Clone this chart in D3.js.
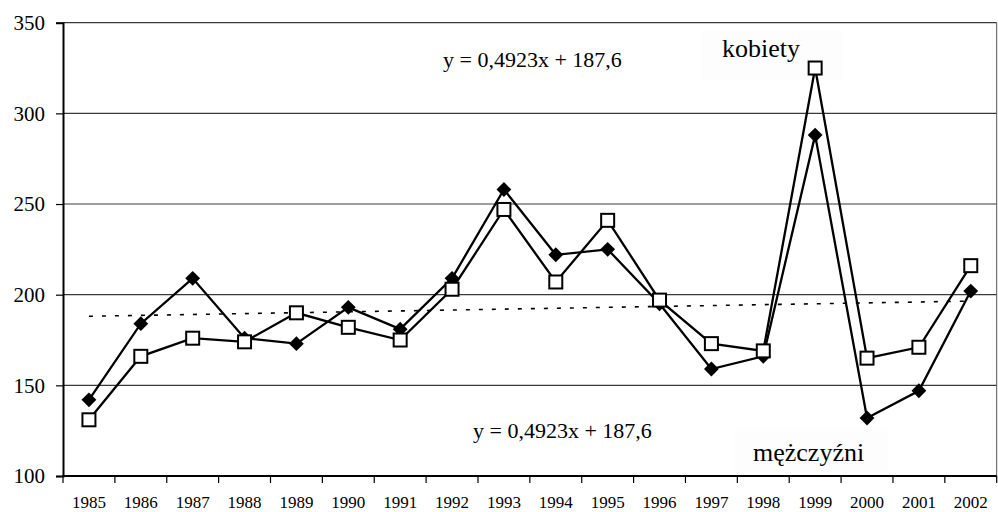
<!DOCTYPE html>
<html>
<head>
<meta charset="utf-8">
<script src="https://cdn.jsdelivr.net/npm/d3@7"></script>
<style>
  body { margin: 0; background: #fff; }
  svg { display: block; font-family: "Liberation Serif", "Times New Roman", serif; }
</style>
</head>
<body>
<svg id="chart" width="998" height="512"></svg>
<script>
// data
var years = ["1985","1986","1987","1988","1989","1990","1991","1992","1993",
             "1994","1995","1996","1997","1998","1999","2000","2001","2002"];
var kobiety = [131,166,176,174,190,182,175,203,247,207,241,197,173,169,325,165,171,216];
var mezczyzni = [142,184,209,176,173,193,181,209,258,222,225,195,159,166,288,132,147,202];
var yTicks = [100,150,200,250,300,350];
var trendSlope = 0.4923, trendIntercept = 187.6;
var trendLabel = "y = 0,4923x + 187,6";

var svg = d3.select("#chart");
var pLeft = 63, pRight = 996.7, pTop = 22.7, pBottom = 476;

var x = d3.scaleBand().domain(years).range([pLeft, pRight]).padding(0);
var y = d3.scaleLinear().domain([100, 350]).range([pBottom, pTop]);
var cx = function(d){ return x(d) + x.bandwidth() / 2; };

// grid lines
svg.append("g").selectAll("line")
  .data(yTicks.slice(1))
  .enter().append("line")
  .attr("x1", pLeft).attr("x2", pRight)
  .attr("y1", function(d){ return y(d); }).attr("y2", function(d){ return y(d); })
  .attr("stroke", "#3a3a3a").attr("stroke-width", 1.2);

// right border
svg.append("line")
  .attr("x1", pRight).attr("x2", pRight).attr("y1", pTop).attr("y2", pBottom)
  .attr("stroke", "#555").attr("stroke-width", 1);

// label boxes (very faint)
svg.append("rect").attr("x", 701).attr("y", 30).attr("width", 142).attr("height", 50)
  .attr("fill", "#fdfdfd");
svg.append("rect").attr("x", 735).attr("y", 427).attr("width", 153).attr("height", 46)
  .attr("fill", "#fdfdfd");

// y axis
var yAxis = d3.axisLeft(y).tickValues(yTicks).tickSize(7).tickPadding(11);
var gy = svg.append("g").attr("transform", "translate(" + pLeft + ",0)").call(yAxis);
gy.select(".domain").attr("stroke", "#000").attr("stroke-width", 2);
gy.selectAll(".tick line").attr("stroke", "#000").attr("stroke-width", 1.2);
gy.selectAll(".tick text")
  .attr("font-family", "Liberation Serif, serif").attr("font-size", 21).attr("fill", "#000");

// x axis: ticks on category boundaries
var gx = svg.append("g").attr("transform", "translate(0," + pBottom + ")");
gx.append("line").attr("x1", pLeft - 1).attr("x2", pRight).attr("stroke", "#000").attr("stroke-width", 2);
gx.selectAll(".xt").data(years.concat(["end"])).enter().append("line")
  .attr("class", "xt")
  .attr("x1", function(d, i){ return i < years.length ? x(d) : pRight; })
  .attr("x2", function(d, i){ return i < years.length ? x(d) : pRight; })
  .attr("y1", 0).attr("y2", 7)
  .attr("stroke", "#000").attr("stroke-width", 1.2);
gx.selectAll(".xl").data(years).enter().append("text")
  .attr("class", "xl")
  .attr("x", cx).attr("y", 32)
  .attr("text-anchor", "middle")
  .attr("font-size", 17)
  .text(function(d){ return d; });

// trend line
var trend = [years[0], years[years.length - 1]].map(function(d){
  var i = years.indexOf(d) + 1;
  return {year: d, v: trendSlope * i + trendIntercept};
});
svg.append("line")
  .attr("x1", cx(trend[0].year)).attr("y1", y(trend[0].v))
  .attr("x2", cx(trend[1].year)).attr("y2", y(trend[1].v))
  .attr("stroke", "#000").attr("stroke-width", 1.6)
  .attr("stroke-dasharray", "4,9");

var line = d3.line().x(function(d){ return cx(d.year); }).y(function(d){ return y(d.v); });
function series(vals){
  return vals.map(function(v, i){ return {year: years[i], v: v}; });
}

// men: filled diamonds
var men = series(mezczyzni);
svg.append("path").datum(men).attr("d", line)
  .attr("fill", "none").attr("stroke", "#000").attr("stroke-width", 2.3);
svg.append("g").selectAll("path").data(men).enter().append("path")
  .attr("d", d3.symbol().type(d3.symbolSquare).size(110))
  .attr("transform", function(d){ return "translate(" + cx(d.year) + "," + y(d.v) + ") rotate(45)"; })
  .attr("fill", "#000");

// women: open squares
var women = series(kobiety);
svg.append("path").datum(women).attr("d", line)
  .attr("fill", "none").attr("stroke", "#000").attr("stroke-width", 2.3);
svg.append("g").selectAll("rect").data(women).enter().append("rect")
  .attr("x", function(d){ return cx(d.year) - 6.5; })
  .attr("y", function(d){ return y(d.v) - 6.5; })
  .attr("width", 13).attr("height", 13)
  .attr("fill", "#fff").attr("stroke", "#000").attr("stroke-width", 2);

// annotations
svg.append("text").attr("x", 443).attr("y", 67).attr("font-size", 22).text(trendLabel);
svg.append("text").attr("x", 473).attr("y", 438).attr("font-size", 22).text(trendLabel);
svg.append("text").attr("x", 722).attr("y", 57).attr("font-size", 26).text("kobiety");
svg.append("text").attr("x", 753).attr("y", 461).attr("font-size", 26).text("mężczyźni");
</script>
</body>
</html>
